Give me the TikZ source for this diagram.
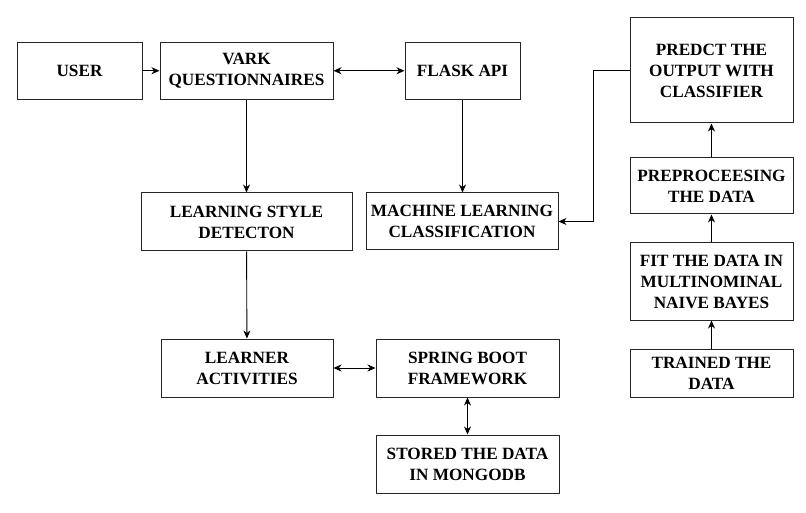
\documentclass[tikz,border=0pt]{standalone}
\usepackage{fontspec}
\setmainfont{Liberation Serif}[BoldFont={Liberation Serif Bold}]
\usetikzlibrary{arrows.meta}
\begin{document}
\begin{tikzpicture}[x=1pt,y=-1pt,
  box/.style={draw=black!85,line width=1pt,align=center,inner sep=0pt,
    font=\fontsize{17.2}{21}\selectfont\bfseries},
  tip/.tip={Stealth[length=8pt,width=7pt,inset=2.5pt]},
  arr/.style={line width=0.9pt,-tip},
  darr/.style={line width=0.9pt,tip-tip},
  uarr/.style={line width=1.4pt,-tip}]
\useasboundingbox (0,0) rectangle (806,513);
\node[box,minimum width=125pt,minimum height=57pt] (user) at (79.5,70.75) {USER};
\node[box,minimum width=173pt,minimum height=57pt] (vark) at (246.5,70.75) {VARK\\QUESTIONNAIRES};
\node[box,minimum width=115pt,minimum height=57pt] (flask) at (462.5,70.75) {FLASK API};
\node[box,minimum width=211pt,minimum height=58pt] (lsd) at (246.5,222) {LEARNING STYLE\\DETECTON};
\node[box,minimum width=192pt,minimum height=57pt] (ml) at (462,221.5) {MACHINE LEARNING\\CLASSIFICATION};
\node[box,minimum width=172pt,minimum height=58pt] (la) at (247,368) {LEARNER\\ACTIVITIES};
\node[box,minimum width=183pt,minimum height=58pt] (sb) at (467.5,368) {SPRING BOOT\\FRAMEWORK};
\node[box,minimum width=183pt,minimum height=58pt] (sd) at (467.5,464) {STORED THE DATA\\IN MONGODB};
\node[box,minimum width=163pt,minimum height=105pt] (pred) at (711.5,70.5) {PREDCT THE\\OUTPUT WITH\\CLASSIFIER};
\node[box,minimum width=163pt,minimum height=56pt] (pre) at (711.5,186) {PREPROCEESING\\THE DATA};
\node[box,minimum width=163pt,minimum height=77pt] (fit) at (711.5,281.5) {FIT THE DATA IN\\MULTINOMINAL\\NAIVE BAYES};
\node[box,minimum width=163pt,minimum height=48pt] (tr) at (711.5,373) {TRAINED THE\\DATA};
\draw[arr] (user) -- (vark);
\draw[darr] (vark) -- (flask);
\draw[arr] (vark) -- (lsd);
\draw[arr] (flask) -- (flask |- ml.north);
\draw[arr] (lsd) -- (la);
\draw[darr] (la) -- (sb);
\draw[darr] (sb) -- (sd);
\draw[uarr] (pre) -- (pred);
\draw[uarr] (fit) -- (pre);
\draw[uarr] (tr) -- (fit);
\draw[arr] (pred.west) -- ++(-36,0) |- (ml.east);
\end{tikzpicture}
\end{document}
